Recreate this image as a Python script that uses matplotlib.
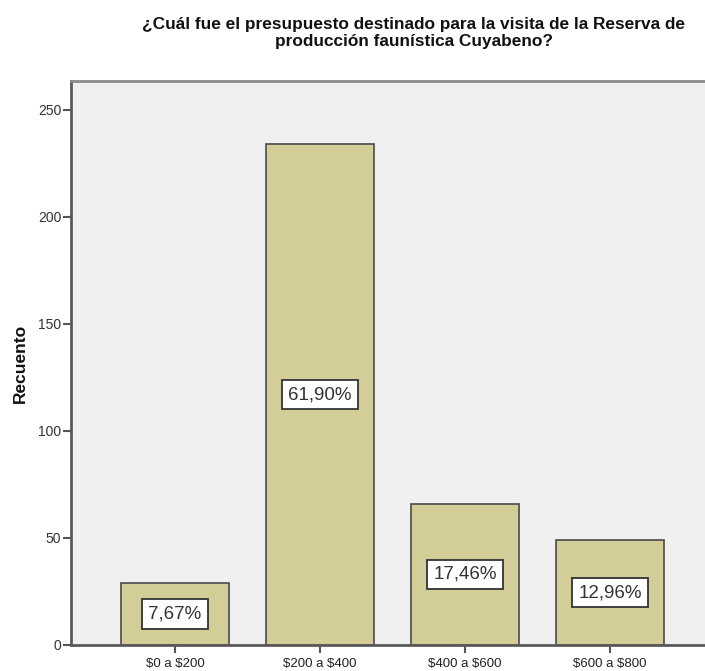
import matplotlib
matplotlib.use("Agg")
import matplotlib.pyplot as plt

plt.rcParams["text.parse_math"] = False
plt.rcParams["font.family"] = ["Liberation Sans", "DejaVu Sans"]

categories = ["$0 a $200", "$200 a $400", "$400 a $600", "$600 a $800"]
counts = [29, 234, 66, 49]
percent_labels = ["7,67%", "61,90%", "17,46%", "12,96%"]
yticks = [0, 50, 100, 150, 200, 250]
title = "¿Cuál fue el presupuesto destinado para la visita de la Reserva de\nproducción faunística Cuyabeno?"

fig = plt.figure(figsize=(7.05, 6.71), dpi=100)
fig.patch.set_facecolor("white")
ax = fig.add_axes([71/705, 26/671, 643/705, 564/671])
ax.set_facecolor("#F0F0F0")

x = list(range(len(categories)))
ax.bar(x, counts, width=0.745, color="#D3CE98", edgecolor="#4a4a4a", linewidth=1.2, zorder=2)

for xi, c, lab in zip(x, counts, percent_labels):
    ax.text(xi, c / 2, lab, ha="center", va="center", fontsize=13.5, color="#333333",
            bbox=dict(boxstyle="square,pad=0.33", facecolor="white", edgecolor="#333333", linewidth=1.3), zorder=3)

ax.set_xlim(-0.717, 3.717)
ax.set_ylim(0, 263.5)
ax.set_yticks(yticks)
ax.set_xticks(x)
ax.set_xticklabels(categories, fontsize=9.5, color="#222222")
ax.tick_params(axis="y", labelsize=10, labelcolor="#333333", length=6, width=1.5, color="#555555", pad=1)
ax.tick_params(axis="x", length=6, width=1.5, color="#555555", pad=3)

for s in ["left", "bottom"]:
    ax.spines[s].set_color("#5a5a5a")
    ax.spines[s].set_linewidth(2)
ax.spines["top"].set_color("#8a8a8a")
ax.spines["top"].set_linewidth(2)
ax.spines["right"].set_visible(False)

ax.set_ylabel("Recuento", fontsize=12.5, fontweight="bold", color="#111111", labelpad=7)

fig.text(0.587, 0.974, title, ha="center", va="top", fontsize=12.4,
         fontweight="bold", color="#111111", linespacing=1.1)

fig.savefig("out.png", dpi=100)
